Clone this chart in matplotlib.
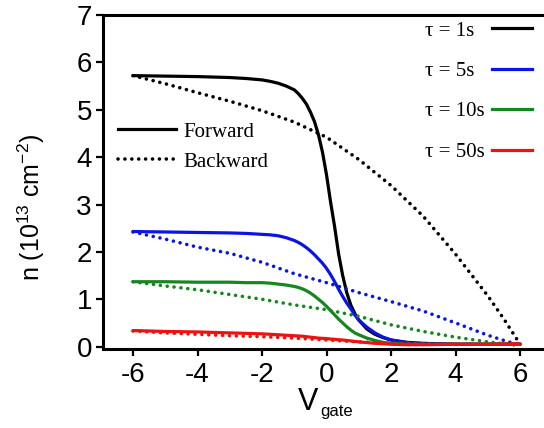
import matplotlib
matplotlib.use("Agg")
import matplotlib.pyplot as plt
from matplotlib.lines import Line2D
from matplotlib.font_manager import FontProperties

plt.rcParams['font.family'] = ['Liberation Sans', 'DejaVu Sans']
plt.rcParams['mathtext.fontset'] = 'custom'
plt.rcParams['mathtext.rm'] = 'Liberation Sans'
plt.rcParams['mathtext.default'] = 'regular'

# ---------------- data ----------------
x_fwd = [-6, -5, -4, -3, -2.5, -2, -1.75, -1.5, -1.25, -1, -0.875, -0.75, -0.625,
         -0.5, -0.375, -0.25, -0.125, 0, 0.125, 0.25, 0.375, 0.5, 0.625, 0.75,
         0.875, 1, 1.25, 1.5, 1.75, 2, 2.5, 3, 4, 5, 6]
black_fwd = [5.72, 5.71, 5.70, 5.68, 5.66, 5.63, 5.60, 5.56, 5.50, 5.42, 5.34, 5.24, 5.12,
             4.95, 4.75, 4.47, 4.10, 3.62, 3.05, 2.53, 1.95, 1.50, 1.14, 0.88,
             0.70, 0.56, 0.37, 0.26, 0.19, 0.14, 0.09, 0.07, 0.05, 0.05, 0.05]
blue_fwd = [2.43, 2.42, 2.41, 2.40, 2.39, 2.37, 2.36, 2.34, 2.30, 2.24, 2.20, 2.15, 2.09,
            2.02, 1.94, 1.85, 1.76, 1.65, 1.52, 1.37, 1.21, 1.06, 0.92, 0.80,
            0.67, 0.56, 0.41, 0.29, 0.20, 0.14, 0.08, 0.06, 0.05, 0.05, 0.05]
green_fwd = [1.37, 1.37, 1.36, 1.36, 1.35, 1.35, 1.34, 1.32, 1.30, 1.27, 1.25, 1.22, 1.18,
             1.13, 1.07, 1.00, 0.93, 0.85, 0.76, 0.67, 0.58, 0.50, 0.42, 0.35,
             0.29, 0.25, 0.18, 0.13, 0.09, 0.07, 0.05, 0.05, 0.05, 0.05, 0.05]
red_fwd = [0.34, 0.32, 0.31, 0.29, 0.28, 0.27, 0.26, 0.25, 0.24, 0.23, 0.225, 0.22, 0.21,
           0.20, 0.19, 0.18, 0.175, 0.17, 0.16, 0.155, 0.145, 0.14, 0.13, 0.12,
           0.11, 0.10, 0.085, 0.07, 0.06, 0.05, 0.04, 0.04, 0.05, 0.05, 0.06]

x_bwd = [-6, -5, -4, -3, -2, -1, 0, 1, 2, 3, 4, 5, 5.5, 6]
black_bwd = [5.72, 5.55, 5.36, 5.18, 4.98, 4.74, 4.42, 3.95, 3.40, 2.75, 1.95, 1.07, 0.58, 0.05]
blue_bwd = [2.42, 2.27, 2.10, 1.97, 1.78, 1.54, 1.35, 1.14, 0.95, 0.75, 0.50, 0.24, 0.13, 0.03]
green_bwd = [1.37, 1.28, 1.20, 1.10, 1.00, 0.88, 0.78, 0.64, 0.46, 0.32, 0.20, 0.10, 0.06, 0.02]
red_bwd = [0.33, 0.29, 0.26, 0.23, 0.21, 0.18, 0.14, 0.10, 0.07, 0.06, 0.05, 0.05, 0.05, 0.05]

tau_labels = ['τ = 1s', 'τ = 5s', 'τ = 10s', 'τ = 50s']
colors = ['#000000', '#0a14e6', '#14871e', '#ee1111']
sweep_labels = ['Forward', 'Backward']
x_ticks = [-6, -4, -2, 0, 2, 4, 6]
y_ticks = [0, 1, 2, 3, 4, 5, 6, 7]

# ---------------- figure ----------------
fig = plt.figure(figsize=(5.44, 4.28), dpi=100)
ax = fig.add_axes([103 / 544, 79 / 428, 441 / 544, 334 / 428])

fwd_series = [black_fwd, blue_fwd, green_fwd, red_fwd]
bwd_series = [black_bwd, blue_bwd, green_bwd, red_bwd]
LW = 2.3
DOT = dict(lw=2.6, dashes=(0.01, 1.9), dash_capstyle='round')
for yb, yf, c in zip(bwd_series, fwd_series, colors):
    ax.plot(x_bwd, yb, color=c, **DOT)
    ax.plot(x_fwd, yf, color=c, lw=LW, solid_capstyle='round',
            solid_joinstyle='round')

ax.set_xlim(-6.93, 6.74)
ax.set_ylim(-0.05, 7)
ax.set_xticks(x_ticks)
ax.set_xticklabels([str(v) for v in x_ticks])
ax.set_yticks(y_ticks)
ax.set_yticklabels([str(v) for v in y_ticks])
ax.spines['right'].set_visible(False)
for s in ['left', 'bottom', 'top']:
    ax.spines[s].set_linewidth(2.2)
ax.tick_params(axis='both', direction='out', length=5, width=1.6,
               labelsize=20, pad=3)
ax.tick_params(axis='x', pad=4)

# legends
serif = FontProperties(family='Liberation Serif', size=15)
top_px = 21
spacing = 1.0
# tau legend: text column (left aligned) ...
ht = [Line2D([], [], alpha=0) for _ in colors]
leg_t = ax.legend(ht, tau_labels, loc='upper left',
                  bbox_to_anchor=(425 / 544, 1 - top_px / 428),
                  bbox_transform=fig.transFigure, frameon=False,
                  handlelength=0, handletextpad=0,
                  labelspacing=spacing, borderpad=0, borderaxespad=0, prop=serif)
ax.add_artist(leg_t)
# ... and line column
h1 = [Line2D([], [], color=c, lw=LW) for c in colors]
leg_h = ax.legend(h1, ['', '', '', ''], loc='upper left',
                  bbox_to_anchor=(492 / 544, 1 - top_px / 428),
                  bbox_transform=fig.transFigure, frameon=False,
                  handlelength=1.9, handletextpad=0,
                  labelspacing=spacing, borderpad=0, borderaxespad=0, prop=serif)
ax.add_artist(leg_h)

h2 = [Line2D([], [], color='k', lw=LW),
      Line2D([], [], color='k', **DOT)]
ax.legend(h2, sweep_labels, loc='upper left',
          bbox_to_anchor=(118 / 544, 1 - 122 / 428),
          bbox_transform=fig.transFigure, frameon=False,
          handlelength=2.8, handletextpad=0.33, labelspacing=0.5,
          borderpad=0, borderaxespad=0, prop=serif)

# axis labels
fig.text(31 / 544, 1 - 207 / 428, 'n (10$^{13}$ cm$^{-2}$)', rotation=90,
         ha='center', va='center', fontsize=18)
fig.text(308 / 544, 1 - 410 / 428, 'V', ha='center', va='baseline', fontsize=22)
fig.text(320 / 544, 1 - 416 / 428, 'gate', ha='left', va='baseline', fontsize=12)

fig.savefig('out.png', dpi=100)
